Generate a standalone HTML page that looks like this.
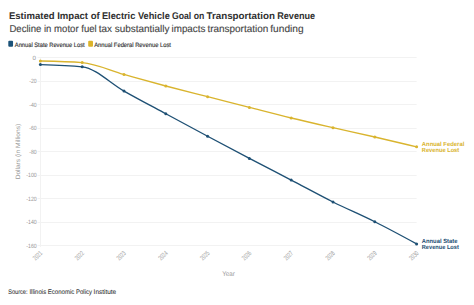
<!DOCTYPE html>
<html><head><meta charset="utf-8">
<style>
html,body{margin:0;padding:0;background:#fff;}
body{width:474px;height:305px;position:relative;overflow:hidden;font-family:"Liberation Sans",sans-serif;}
svg{position:absolute;left:0;top:0;font-family:"Liberation Sans",sans-serif;text-rendering:geometricPrecision;}
</style></head><body>
<svg width="474" height="305" viewBox="0 0 474 305">
<text x="8.90" y="18.8" font-size="9.7" font-weight="bold" fill="#303030" text-anchor="start" textLength="90.80" lengthAdjust="spacingAndGlyphs" >Estimated Impact of</text>
<text x="101.90" y="18.8" font-size="9.7" font-weight="bold" fill="#303030" text-anchor="start" textLength="67.90" lengthAdjust="spacingAndGlyphs" >Electric Vehicle</text>
<text x="172.00" y="18.8" font-size="9.7" font-weight="bold" fill="#303030" text-anchor="start" textLength="32.30" lengthAdjust="spacingAndGlyphs" >Goal on</text>
<text x="206.50" y="18.8" font-size="9.7" font-weight="bold" fill="#303030" text-anchor="start" textLength="68.50" lengthAdjust="spacingAndGlyphs" >Transportation</text>
<text x="277.20" y="18.8" font-size="9.7" font-weight="bold" fill="#303030" text-anchor="start" textLength="38.00" lengthAdjust="spacingAndGlyphs" >Revenue</text>
<text x="9.40" y="31.6" font-size="10.0" font-weight="normal" fill="#444" text-anchor="start" textLength="87.30" lengthAdjust="spacingAndGlyphs" stroke="#444" stroke-width="0.12" >Decline in motor fuel</text>
<text x="98.70" y="31.6" font-size="10.0" font-weight="normal" fill="#444" text-anchor="start" textLength="70.80" lengthAdjust="spacingAndGlyphs" stroke="#444" stroke-width="0.12" >tax substantially</text>
<text x="171.50" y="31.6" font-size="10.0" font-weight="normal" fill="#444" text-anchor="start" textLength="33.90" lengthAdjust="spacingAndGlyphs" stroke="#444" stroke-width="0.12" >impacts</text>
<text x="207.40" y="31.6" font-size="10.0" font-weight="normal" fill="#444" text-anchor="start" textLength="60.90" lengthAdjust="spacingAndGlyphs" stroke="#444" stroke-width="0.12" >transportation</text>
<text x="270.30" y="31.6" font-size="10.0" font-weight="normal" fill="#444" text-anchor="start" textLength="33.30" lengthAdjust="spacingAndGlyphs" stroke="#444" stroke-width="0.12" >funding</text>
<rect x="8.3" y="40.7" width="4.75" height="6" rx="1" fill="#1b5278"/>
<text x="14.8" y="46.7" font-size="6.3" font-weight="normal" fill="#333" text-anchor="start" textLength="69.9" lengthAdjust="spacingAndGlyphs" stroke="#333" stroke-width="0.15" >Annual State Revenue Lost</text>
<rect x="88.2" y="40.7" width="4.8" height="6" rx="1" fill="#dcb42a"/>
<text x="94.2" y="46.7" font-size="6.3" font-weight="normal" fill="#333" text-anchor="start" textLength="76.8" lengthAdjust="spacingAndGlyphs" stroke="#333" stroke-width="0.15" >Annual Federal Revenue Lost</text>
<line x1="37.5" y1="57.5" x2="416.60" y2="57.5" stroke="#f2f2f2" stroke-width="1"/>
<text x="35.9" y="59.50" font-size="6.2" font-weight="normal" fill="#999999" text-anchor="end" >0</text>
<line x1="37.5" y1="81.5" x2="416.60" y2="81.5" stroke="#f2f2f2" stroke-width="1"/>
<text x="36.7" y="83.05" font-size="6.2" font-weight="normal" fill="#999999" text-anchor="end" textLength="7.4" lengthAdjust="spacingAndGlyphs" >-20</text>
<line x1="37.5" y1="104.5" x2="416.60" y2="104.5" stroke="#f2f2f2" stroke-width="1"/>
<text x="36.7" y="106.60" font-size="6.2" font-weight="normal" fill="#999999" text-anchor="end" textLength="7.4" lengthAdjust="spacingAndGlyphs" >-40</text>
<line x1="37.5" y1="128.5" x2="416.60" y2="128.5" stroke="#f2f2f2" stroke-width="1"/>
<text x="36.7" y="130.15" font-size="6.2" font-weight="normal" fill="#999999" text-anchor="end" textLength="7.4" lengthAdjust="spacingAndGlyphs" >-60</text>
<line x1="37.5" y1="151.5" x2="416.60" y2="151.5" stroke="#f2f2f2" stroke-width="1"/>
<text x="36.7" y="153.70" font-size="6.2" font-weight="normal" fill="#999999" text-anchor="end" textLength="7.4" lengthAdjust="spacingAndGlyphs" >-80</text>
<line x1="37.5" y1="175.5" x2="416.60" y2="175.5" stroke="#f2f2f2" stroke-width="1"/>
<text x="36.7" y="177.25" font-size="6.2" font-weight="normal" fill="#999999" text-anchor="end" textLength="10.4" lengthAdjust="spacingAndGlyphs" >-100</text>
<line x1="37.5" y1="198.5" x2="416.60" y2="198.5" stroke="#f2f2f2" stroke-width="1"/>
<text x="36.7" y="200.80" font-size="6.2" font-weight="normal" fill="#999999" text-anchor="end" textLength="10.4" lengthAdjust="spacingAndGlyphs" >-120</text>
<line x1="37.5" y1="222.5" x2="416.60" y2="222.5" stroke="#f2f2f2" stroke-width="1"/>
<text x="36.7" y="224.35" font-size="6.2" font-weight="normal" fill="#999999" text-anchor="end" textLength="10.4" lengthAdjust="spacingAndGlyphs" >-140</text>
<line x1="37.5" y1="245.5" x2="416.60" y2="245.5" stroke="#f2f2f2" stroke-width="1"/>
<text x="36.7" y="247.90" font-size="6.2" font-weight="normal" fill="#999999" text-anchor="end" textLength="10.4" lengthAdjust="spacingAndGlyphs" >-160</text>
<line x1="40.5" y1="57.50" x2="40.5" y2="246.90" stroke="#f2f2f2" stroke-width="1"/>
<text x="42.80" y="253.60" font-size="6.8" font-weight="normal" fill="#999999" text-anchor="end" textLength="10.2" lengthAdjust="spacingAndGlyphs" transform="rotate(-45 42.80 253.60)">2021</text>
<text x="84.60" y="253.60" font-size="6.8" font-weight="normal" fill="#999999" text-anchor="end" textLength="10.2" lengthAdjust="spacingAndGlyphs" transform="rotate(-45 84.60 253.60)">2022</text>
<text x="126.40" y="253.60" font-size="6.8" font-weight="normal" fill="#999999" text-anchor="end" textLength="10.2" lengthAdjust="spacingAndGlyphs" transform="rotate(-45 126.40 253.60)">2023</text>
<text x="168.20" y="253.60" font-size="6.8" font-weight="normal" fill="#999999" text-anchor="end" textLength="10.2" lengthAdjust="spacingAndGlyphs" transform="rotate(-45 168.20 253.60)">2024</text>
<text x="210.00" y="253.60" font-size="6.8" font-weight="normal" fill="#999999" text-anchor="end" textLength="10.2" lengthAdjust="spacingAndGlyphs" transform="rotate(-45 210.00 253.60)">2025</text>
<text x="251.80" y="253.60" font-size="6.8" font-weight="normal" fill="#999999" text-anchor="end" textLength="10.2" lengthAdjust="spacingAndGlyphs" transform="rotate(-45 251.80 253.60)">2026</text>
<text x="293.60" y="253.60" font-size="6.8" font-weight="normal" fill="#999999" text-anchor="end" textLength="10.2" lengthAdjust="spacingAndGlyphs" transform="rotate(-45 293.60 253.60)">2027</text>
<text x="335.40" y="253.60" font-size="6.8" font-weight="normal" fill="#999999" text-anchor="end" textLength="10.2" lengthAdjust="spacingAndGlyphs" transform="rotate(-45 335.40 253.60)">2028</text>
<text x="377.20" y="253.60" font-size="6.8" font-weight="normal" fill="#999999" text-anchor="end" textLength="10.2" lengthAdjust="spacingAndGlyphs" transform="rotate(-45 377.20 253.60)">2029</text>
<text x="419.00" y="253.60" font-size="6.8" font-weight="normal" fill="#999999" text-anchor="end" textLength="10.2" lengthAdjust="spacingAndGlyphs" transform="rotate(-45 419.00 253.60)">2030</text>
<path d="M40.40,61.03C54.33,61.29 68.27,61.54 82.20,62.56C96.13,63.58 110.07,70.55 124.00,74.46C137.93,78.36 151.87,82.29 165.80,86.00C179.73,89.70 193.67,93.14 207.60,96.71C221.53,100.28 235.47,103.87 249.40,107.43C263.33,110.98 277.27,114.65 291.20,118.02C305.13,121.40 319.07,124.52 333.00,127.68C346.93,130.84 360.87,133.78 374.80,136.98C388.73,140.18 402.67,143.53 416.60,146.87" fill="none" stroke="#d9b42e" stroke-width="1.35"/>
<path d="M40.40,64.56C54.33,64.94 68.27,65.31 82.20,66.80C96.13,68.29 110.07,83.23 124.00,91.06C137.93,98.89 151.87,106.25 165.80,113.78C179.73,121.32 193.67,128.84 207.60,136.27C221.53,143.71 235.47,151.11 249.40,158.41C263.33,165.71 277.27,172.82 291.20,180.08C305.13,187.34 319.07,195.03 333.00,201.98C346.93,208.93 360.87,214.77 374.80,221.76C388.73,228.75 402.67,236.32 416.60,243.90" fill="none" stroke="#1e5074" stroke-width="1.35"/>
<circle cx="40.40" cy="61.03" r="1.5" fill="#d9b42e"/>
<circle cx="40.40" cy="64.56" r="1.5" fill="#1e5074"/>
<circle cx="82.20" cy="62.56" r="1.5" fill="#d9b42e"/>
<circle cx="82.20" cy="66.80" r="1.5" fill="#1e5074"/>
<circle cx="124.00" cy="74.46" r="1.5" fill="#d9b42e"/>
<circle cx="124.00" cy="91.06" r="1.5" fill="#1e5074"/>
<circle cx="165.80" cy="86.00" r="1.5" fill="#d9b42e"/>
<circle cx="165.80" cy="113.78" r="1.5" fill="#1e5074"/>
<circle cx="207.60" cy="96.71" r="1.5" fill="#d9b42e"/>
<circle cx="207.60" cy="136.27" r="1.5" fill="#1e5074"/>
<circle cx="249.40" cy="107.43" r="1.5" fill="#d9b42e"/>
<circle cx="249.40" cy="158.41" r="1.5" fill="#1e5074"/>
<circle cx="291.20" cy="118.02" r="1.5" fill="#d9b42e"/>
<circle cx="291.20" cy="180.08" r="1.5" fill="#1e5074"/>
<circle cx="333.00" cy="127.68" r="1.5" fill="#d9b42e"/>
<circle cx="333.00" cy="201.98" r="1.5" fill="#1e5074"/>
<circle cx="374.80" cy="136.98" r="1.5" fill="#d9b42e"/>
<circle cx="374.80" cy="221.76" r="1.5" fill="#1e5074"/>
<circle cx="416.60" cy="146.87" r="1.5" fill="#d9b42e"/>
<circle cx="416.60" cy="243.90" r="1.5" fill="#1e5074"/>
<text x="421.8" y="146.2" font-size="6.0" font-weight="bold" fill="#d9b42e" text-anchor="start" textLength="42.5" lengthAdjust="spacingAndGlyphs" >Annual Federal</text>
<text x="421.8" y="151.9" font-size="6.0" font-weight="bold" fill="#d9b42e" text-anchor="start" textLength="37.4" lengthAdjust="spacingAndGlyphs" >Revenue Lost</text>
<text x="421.8" y="243.1" font-size="6.0" font-weight="bold" fill="#1e5074" text-anchor="start" textLength="35.6" lengthAdjust="spacingAndGlyphs" >Annual State</text>
<text x="421.8" y="248.7" font-size="6.0" font-weight="bold" fill="#1e5074" text-anchor="start" textLength="37" lengthAdjust="spacingAndGlyphs" >Revenue Lost</text>
<text x="228.5" y="275.5" font-size="6.8" font-weight="normal" fill="#999999" text-anchor="middle" textLength="12.6" lengthAdjust="spacingAndGlyphs" >Year</text>
<text x="0" y="0" font-size="6.3" font-weight="normal" fill="#999999" text-anchor="middle" textLength="55.5" lengthAdjust="spacingAndGlyphs" transform="translate(19.6 151.6) rotate(-90)">Dollars (in Millions)</text>
<text x="8.30" y="294" font-size="6.7" font-weight="normal" fill="#333" text-anchor="start" textLength="19.20" lengthAdjust="spacingAndGlyphs" stroke="#333" stroke-width="0.08" >Source:</text>
<text x="29.40" y="294" font-size="6.7" font-weight="normal" fill="#333" text-anchor="start" textLength="62.70" lengthAdjust="spacingAndGlyphs" stroke="#333" stroke-width="0.08" >Illinois Economic Policy</text>
<text x="93.60" y="294" font-size="6.7" font-weight="normal" fill="#333" text-anchor="start" textLength="22.60" lengthAdjust="spacingAndGlyphs" stroke="#333" stroke-width="0.08" >Institute</text>
</svg>
</body></html>
